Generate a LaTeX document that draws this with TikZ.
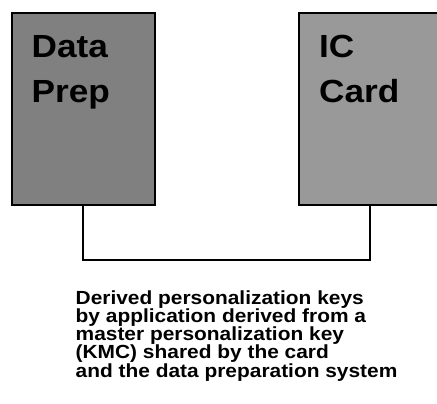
\documentclass[tikz,border=0pt]{standalone}
\usepackage{fontspec}
\newfontfamily\diagfont{Liberation Sans}[FakeStretch=1.1]
\begin{document}
\begin{tikzpicture}[x=1pt,y=1pt,
  unitbox/.style={draw=black, line width=1.8pt, inner sep=0pt, anchor=north west},
  boxlabel/.style={font=\diagfont\bfseries\fontsize{32}{45}\selectfont, align=left, inner sep=0pt, anchor=base west},
  notetext/.style={font=\diagfont\bfseries\fontsize{19}{18.3}\selectfont, align=left, inner sep=0pt, anchor=base west},
  link/.style={draw=black, line width=2.4pt}]
\useasboundingbox (0,0) rectangle (437,-404);
\clip (0,0) rectangle (437,-404);
% the two units
\node[unitbox, fill={rgb,255:red,128;green,128;blue,128}, minimum width=143pt, minimum height=192pt] (prep) at (11,-12) {};
\node[unitbox, fill={rgb,255:red,153;green,153;blue,153}, minimum width=150pt, minimum height=192pt] (card) at (298,-12) {};
% their labels (anchored on the baseline of the last line)
\node[boxlabel] (preplabel) at (31.5,-102.3) {Data\\Prep};
\node[boxlabel] (cardlabel) at (319,-102.3) {IC\\Card};
% link between the units
\coordinate (bend1) at (83,-260);
\coordinate (bend2) at (370,-260);
\draw[link] (prep.south west -| bend1) -- (bend1) -- (bend2) -- (card.south west -| bend2);
% explanation of the keys
\node[notetext] (note) at (75.5,-377.2) {Derived personalization keys\\by application derived from a\\master personalization key\\(KMC) shared by the card\\and the data preparation system};
\end{tikzpicture}
\end{document}
